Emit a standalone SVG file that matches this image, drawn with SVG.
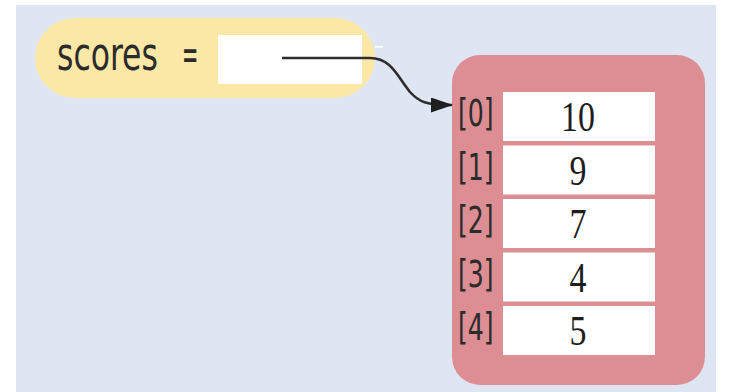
<svg xmlns="http://www.w3.org/2000/svg" width="730" height="392" viewBox="0 0 730 392">
  <style>
    .bg { fill: #dfe6f3; }
    .var { fill: #fbe7a6; }
    .slot { fill: #ffffff; }
    .arr { fill: #dd8e93; }
    .sans { font-family: "DejaVu Sans Condensed", "DejaVu Sans", sans-serif; fill: #2b2b2b; }
    .serif { font-family: "Liberation Serif", "Times New Roman", serif; fill: #1e1e1e; }
    .link { fill: none; stroke: #2e2e2e; stroke-width: 2.6; }
  </style>
  <defs>
    <marker id="head" viewBox="0 0 22 15" refX="21" refY="7.5" markerWidth="22" markerHeight="15" markerUnits="userSpaceOnUse" orient="auto">
      <path d="M0,0 L22,7.5 L0,15 Z" fill="#1f1f1f"/>
    </marker>
  </defs>

  <rect class="bg" x="16" y="5" width="700" height="387"/>

  <!-- variable: scores -->
  <g id="scores">
    <rect class="var" x="35" y="18" width="340" height="80" rx="40"/>
    <rect class="slot" x="218" y="35" width="144" height="49"/>
    <rect x="375" y="46" width="8" height="1.5" fill="#ffffff"/>
    <text class="sans" transform="translate(57,70) scale(1,1.32)" font-size="35">scores</text>
    <text class="sans" transform="translate(182,70) scale(0.62,1.25)" font-size="35">=</text>
  </g>

  <!-- array object -->
  <g id="array">
    <rect class="arr" x="452" y="55" width="253" height="330" rx="28"/>
    <g id="cell0">
      <rect class="slot" x="503" y="92" width="152" height="49"/>
      <text class="sans" transform="translate(458,126) scale(1,1.3)" font-size="28">[0]</text>
      <text class="serif" text-anchor="middle" transform="translate(578,131) scale(1,1.22)" font-size="34">10</text>
    </g>
    <g id="cell1">
      <rect class="slot" x="503" y="145.5" width="152" height="49"/>
      <text class="sans" transform="translate(458,179.5) scale(1,1.3)" font-size="28">[1]</text>
      <text class="serif" text-anchor="middle" transform="translate(578,184.5) scale(1,1.22)" font-size="34">9</text>
    </g>
    <g id="cell2">
      <rect class="slot" x="503" y="199" width="152" height="49"/>
      <text class="sans" transform="translate(458,233) scale(1,1.3)" font-size="28">[2]</text>
      <text class="serif" text-anchor="middle" transform="translate(578,238) scale(1,1.22)" font-size="34">7</text>
    </g>
    <g id="cell3">
      <rect class="slot" x="503" y="252.5" width="152" height="49"/>
      <text class="sans" transform="translate(458,286.5) scale(1,1.3)" font-size="28">[3]</text>
      <text class="serif" text-anchor="middle" transform="translate(578,291.5) scale(1,1.22)" font-size="34">4</text>
    </g>
    <g id="cell4">
      <rect class="slot" x="503" y="306" width="152" height="49"/>
      <text class="sans" transform="translate(458,340) scale(1,1.3)" font-size="28">[4]</text>
      <text class="serif" text-anchor="middle" transform="translate(578,345) scale(1,1.22)" font-size="34">5</text>
    </g>
  </g>

  <!-- reference from scores to the array -->
  <g id="connectors">
    <path class="link" d="M282,58 L370,58 C392,58 398,78 410,92 C419,102 426,105 452,105" marker-end="url(#head)"/>
  </g>
</svg>
